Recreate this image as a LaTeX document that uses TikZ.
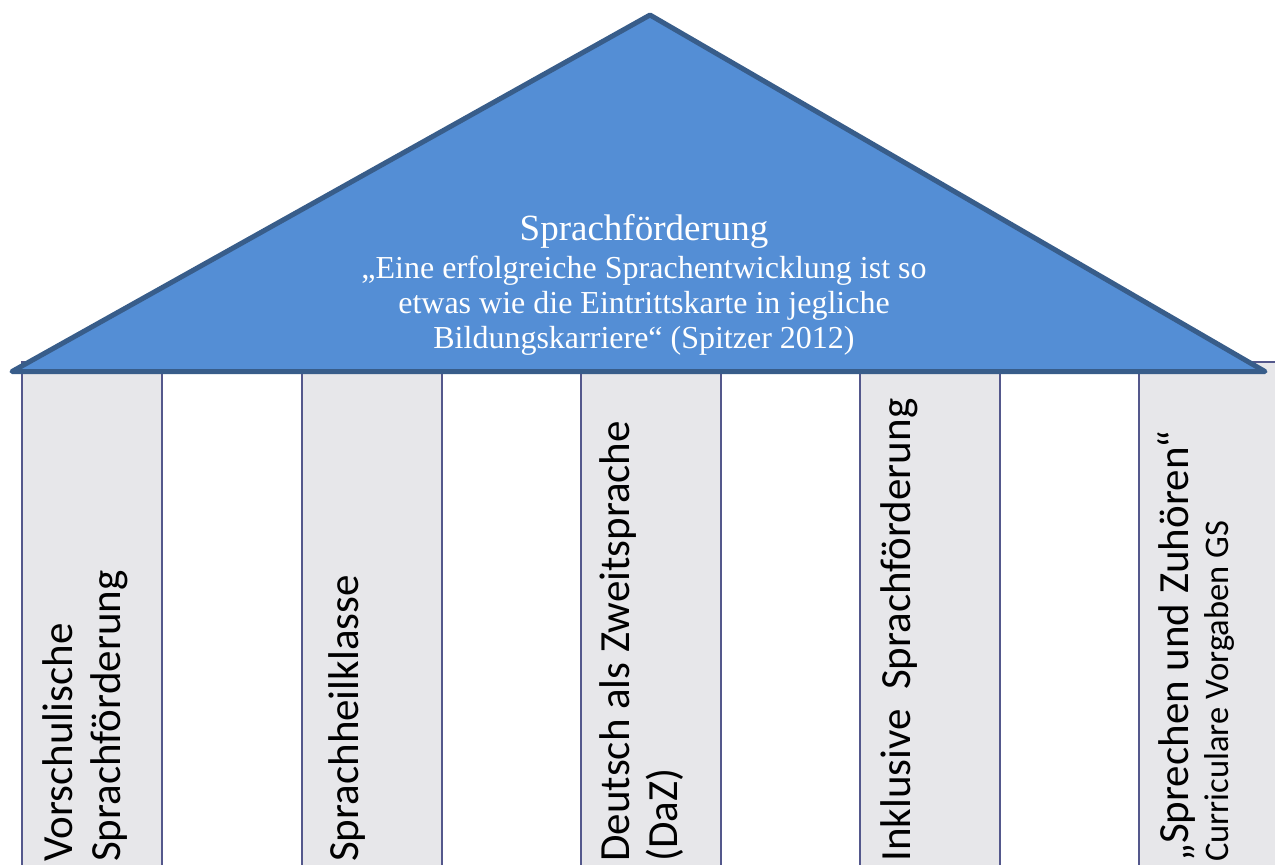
\documentclass[tikz,border=0pt]{standalone}
\usepackage{fontspec}
\setmainfont{Liberation Serif}
\newfontfamily\colfont{Carlito}
\definecolor{roofblue}{RGB}{84,142,213}
\definecolor{roofedge}{RGB}{56,93,138}
\definecolor{pillargray}{RGB}{231,231,234}
\definecolor{pillaredge}{RGB}{84,88,140}
\tikzset{
  pillar/.style={fill=pillargray, draw=pillaredge, line width=2pt},
  roof/.style={fill=roofblue, draw=roofedge, line width=5pt, line join=round},
  pillartext/.style={rotate=90, inner sep=0pt, align=left, anchor=base west,
    font=\colfont\fontsize{43}{47.5}\selectfont, text=black},
  rooftext/.style={inner sep=0pt, align=center, anchor=base, text=white}
}
\begin{document}
\begin{tikzpicture}[x=1pt,y=-1pt]
\useasboundingbox (0,0) rectangle (1275,865);
\clip (0,0) rectangle (1275,865);
% pillars
\draw[pillar] (22,362) rectangle (162,880);
\draw[pillar] (301.5,362) rectangle (441.5,880);
\draw[pillar] (580.5,362) rectangle (720.5,880);
\draw[pillar] (859.5,362) rectangle (999.5,880);
\draw[pillar] (1138.5,362) rectangle (1290,880);
% pillar texts (base = baseline of the last line)
\node[pillartext] (p1) at (120,862) {Vorschulische\\Sprachförderung};
\node[pillartext] (p2) at (358,862) {Sprachheilklasse};
\node[pillartext] (p3) at (677,862) {Deutsch als Zweitsprache\\(DaZ)};
\node[pillartext] (p4) at (910,862) {Inklusive~~Sprachförderung};
\node[pillartext] (p5) at (1228,862) {„Sprechen und Zuhören“\\[-8pt]{\fontsize{34.5}{37}\selectfont Curriculare Vorgaben GS}};
% roof
\draw[roof] (12,371.5) -- (650,15) -- (1265,371.5) -- cycle;
\node[rooftext, font=\fontsize{37}{40}\selectfont] (title) at (644,240) {Sprachförderung};
\node[rooftext, font=\fontsize{32}{35}\selectfont] (quote) at (644,348)
  {„Eine erfolgreiche Sprachentwicklung ist so\\etwas wie die Eintrittskarte in jegliche\\Bildungskarriere“ (Spitzer 2012)};
\end{tikzpicture}
\end{document}
